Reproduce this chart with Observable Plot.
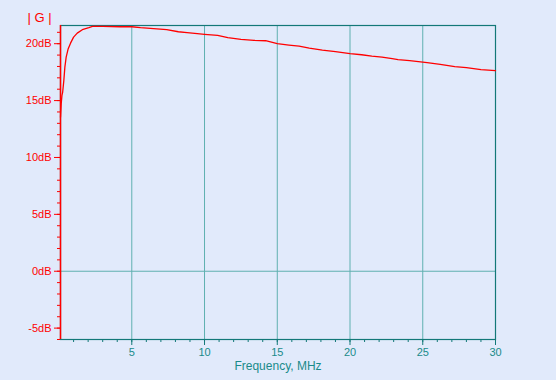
<!DOCTYPE html>
<html>
<head>
<meta charset="utf-8">
<script src="https://cdn.jsdelivr.net/npm/d3@7"></script>
<script src="https://cdn.jsdelivr.net/npm/@observablehq/plot@0.6"></script>
<style>
  html, body { margin: 0; padding: 0; background: #e1eafb; }
  #chart svg { display: block; }
</style>
</head>
<body>
<div id="chart"></div>
<script>
const freqMHz = [0.1, 0.15, 0.2, 0.25, 0.33, 0.4, 0.49, 0.63, 0.79, 1.0, 1.25, 1.6, 2.05, 2.3, 3, 4.2, 5, 5.6, 6.5, 7.4, 8.2, 8.8, 9.5, 10, 10.9, 11.6, 12.5, 13.4, 14.2, 15, 15.8, 16.5, 17.2, 18.1, 19, 20, 20.8, 21.5, 22.2, 22.9, 23.3, 24.1, 24.7, 25.3, 26.2, 27.2, 28, 29, 30];
const gainDB = [13.53, 14.76, 15.46, 15.75, 16.78, 17.94, 18.82, 19.56, 20.05, 20.58, 20.93, 21.23, 21.41, 21.52, 21.52, 21.49, 21.49, 21.41, 21.32, 21.23, 21.05, 20.97, 20.88, 20.82, 20.73, 20.53, 20.38, 20.29, 20.26, 20.0, 19.88, 19.79, 19.61, 19.44, 19.3, 19.12, 19.03, 18.91, 18.82, 18.68, 18.6, 18.51, 18.42, 18.33, 18.18, 17.98, 17.89, 17.72, 17.63];

const xDomain = [0.1, 30];
const yDomain = [-6, 21.6];
const xMajor = [5, 10, 15, 20, 25, 30];
const xGrid = [5, 10, 15, 20, 25];
const xMinor = d3.range(1, 30);
const yMajor = [-5, 0, 5, 10, 15, 20];
const yMinor = d3.range(-6, 22);
const yGrid = [0];
const title = "| G |";
const xLabel = "Frequency, MHz";

const data = freqMHz.map((f, i) => ({f, g: gainDB[i]}));

const RED = "#ff0000";
const TEAL = "#137878";
const GRID = "#5fb0b0";
const TEXT_TEAL = "#1a8a8a";

const chart = Plot.plot({
  width: 556,
  height: 380,
  marginLeft: 60,
  marginRight: 61,
  marginTop: 25,
  marginBottom: 41,
  style: {background: "#e1eafb", fontFamily: "'Liberation Sans', Arial, sans-serif", fontSize: "11px"},
  x: {domain: xDomain, label: null},
  y: {domain: yDomain, label: null},
  marks: [
    Plot.ruleX(xGrid, {stroke: GRID, strokeWidth: 1}),
    Plot.ruleY(yGrid, {stroke: GRID, strokeWidth: 1}),
    Plot.frame({stroke: TEAL, strokeWidth: 1.2}),
    Plot.ruleX([xDomain[0]], {stroke: RED, strokeWidth: 1.5}),
    Plot.axisX(xMinor, {tickSize: 3, tickFormat: () => "", stroke: TEAL, label: null}),
    Plot.axisX(xMajor, {tickSize: 6, tickPadding: 3, stroke: TEAL, fill: TEXT_TEAL, label: null, fontSize: 11}),
    Plot.axisY(yMinor, {tickSize: 3, tickFormat: () => "", stroke: RED, label: null}),
    Plot.axisY(yMajor, {tickSize: 6, tickPadding: 3, tickFormat: d => d + "dB", stroke: RED, fill: RED, label: null, fontSize: 11}),
    Plot.line(data, {x: "f", y: "g", stroke: RED, strokeWidth: 1.3}),
    Plot.text([xLabel], {frameAnchor: "bottom", dy: 30, fill: TEXT_TEAL, fontSize: 12}),
    Plot.text([title], {frameAnchor: "top-left", dx: -33, dy: -13, fill: RED, fontSize: 13})
  ]
});
document.getElementById("chart").appendChild(chart);
</script>
</body>
</html>
